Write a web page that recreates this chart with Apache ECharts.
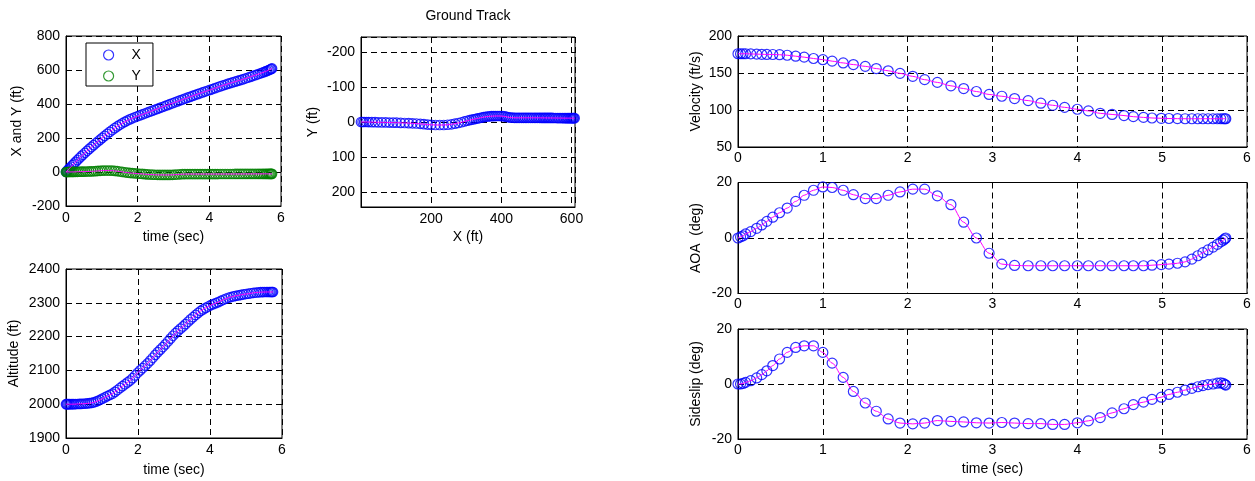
<!DOCTYPE html>
<html>
<head>
<meta charset="utf-8">
<script src="https://cdn.jsdelivr.net/npm/echarts@6/dist/echarts.min.js"></script>
<style>
html,body{margin:0;padding:0;background:#fff;}
#c{width:1255px;height:481px;}
</style>
</head>
<body>
<div id="c"></div>
<script>
// ---- data ----
// left panels (position / altitude) time samples
const tLeft = [0,0.02,0.04,0.07,0.1,0.14,0.18,0.22,0.27,0.32,0.37,0.42,0.47,0.53,0.59,0.65,0.71,0.77,0.83,0.89,0.95,1.01,1.08,1.15,1.22,1.29,1.36,1.43,1.5,1.57,1.64,1.71,1.78,1.85,1.92,1.99,2.06,2.13,2.2,2.27,2.34,2.41,2.48,2.55,2.62,2.69,2.76,2.83,2.9,2.97,3.04,3.11,3.18,3.25,3.32,3.39,3.46,3.53,3.6,3.67,3.74,3.81,3.88,3.95,4.02,4.09,4.16,4.23,4.3,4.37,4.44,4.51,4.58,4.65,4.72,4.79,4.86,4.93,5.0,5.07,5.14,5.21,5.28,5.35,5.41,5.47,5.52,5.57,5.61,5.65,5.68,5.71,5.73,5.75];
const posX = [0,4.5,9,15.5,22,31,40,49,59.5,70.5,81,91.5,101.5,113,124.5,136,147,158,169,179.5,190,200.5,212.5,224.5,236,247,258,268,277.5,286.5,295,302.5,309.5,316,322,327.5,333,338.5,344,349.5,355,360.5,366,371.5,377,382.5,388,393.5,399,404.5,410,415.5,421,426,431.5,437,442,447.5,452.5,458,463,468,473,478,483,488,493.5,498.5,503.5,508.5,513,518,522.5,527,531.5,536,540.5,545,549.5,554.5,559.5,564.5,569.5,574.5,579,583.5,587.5,591.5,595,598.5,601.5,604.5,606.5,609];
const posY = [0,0,0,0,0.2,0.4,0.6,0.8,1,1.2,1.5,1.8,2,2.4,2.8,3.2,3.7,4.3,5.2,6.2,7.2,8,8.5,8.6,8.5,7.8,6.5,4.8,2.8,0.7,-1.5,-3.5,-5.2,-6.6,-7.8,-9,-10.2,-11.4,-12.6,-13.8,-14.8,-15.6,-16.2,-16.6,-16.9,-17,-17.1,-17.1,-17,-16.6,-15.8,-14.6,-13.4,-12.6,-12.2,-12,-12,-12,-12,-12,-12,-12,-12,-12,-12,-12,-12,-12,-11.9,-11.9,-11.8,-11.8,-11.7,-11.7,-11.6,-11.6,-11.5,-11.5,-11.4,-11.4,-11.3,-11.3,-11.2,-11.2,-11.1,-11.1,-11,-11,-11,-11,-11,-11,-11,-11];
const altitude = [2000,2000,2000,2000,2000,2000,2000,2000.2,2000.4,2000.6,2000.8,2001,2001.3,2001.7,2002.3,2003,2004,2005.3,2007.5,2010,2013,2016.5,2020,2024,2027.5,2031,2036.5,2042,2048,2053.5,2059,2064.5,2070,2077,2085,2093,2100,2107,2114,2121,2129,2137.5,2146,2154,2161.5,2169,2177,2185.5,2194,2202.5,2210,2217,2223.5,2230,2237,2244,2251,2257.5,2264,2270,2276,2280.5,2285,2289,2293,2296,2299,2302,2305.5,2309,2312,2315,2317,2319,2320.7,2322,2323.5,2325,2326,2327,2328.3,2329.5,2330.3,2331,2331.4,2331.7,2332,2332,2332,2332,2332,2332,2332,2332];
// right panels time samples
const tRight = [0,0.03,0.06,0.09,0.15,0.22,0.28,0.34,0.41,0.49,0.58,0.68,0.78,0.89,1.0,1.11,1.24,1.36,1.5,1.63,1.77,1.91,2.06,2.2,2.35,2.51,2.66,2.81,2.96,3.11,3.26,3.42,3.57,3.71,3.85,4.0,4.13,4.27,4.41,4.55,4.66,4.78,4.88,4.99,5.08,5.18,5.27,5.35,5.42,5.48,5.54,5.6,5.65,5.69,5.72,5.74,5.75];
const velocity = [176,176,176,176,175.8,175.5,175.3,175.1,175,174.7,174,172.7,171.4,169.6,168,166,163.6,161.4,159,156,153,149.5,145.5,141,137.3,132.7,129,125,121,118.6,115.5,112.7,109.2,106.4,103.6,101,98.8,95.5,94,92.5,91,90,89.2,88.8,88.5,88.3,88.2,88.2,88.2,88.2,88.2,88.2,88.2,88.2,88.2,88.2,88.2];
const aoa = [0,0.4,0.8,1.5,2.3,3.5,4.7,6,7.5,9.1,10.8,13.2,15.4,17.2,18.4,18.2,17.2,15.6,14.2,14.2,15.4,16.6,17.6,17.6,15.2,12,5.7,0,-5.5,-9.4,-9.9,-10,-10,-10,-10,-10,-10,-10,-10,-10,-10,-10,-9.8,-9.6,-9.4,-9.1,-8.6,-7.6,-6.4,-5.3,-4.3,-3.3,-2.3,-1.4,-0.8,-0.3,0];
const sideslip = [0,0,0.2,0.6,1.2,2.2,3.4,4.8,6.7,9.1,11.5,13.3,13.9,13.9,11.5,7.6,2.4,-2.7,-6.9,-9.9,-12.7,-14.2,-14.5,-14.2,-13.3,-13.6,-13.8,-14.1,-14.2,-14,-14.2,-14.4,-14.4,-14.7,-14.7,-14.1,-13.4,-12.2,-10.5,-9,-7.5,-6.6,-5.6,-4.8,-3.8,-3,-2.2,-1.6,-1,-0.6,-0.2,0,0.3,0.4,0.2,-0.2,-0.4];
// labels
const legendNames = ['X','Y'];
const titleText = 'Ground Track';
const axisNames = {
  xy:['time (sec)','X and Y (ft)'], gt:['X (ft)','Y (ft)'], alt:['time (sec)','Altitude (ft)'],
  vel:['','Velocity (ft/s)'], aoa:['','AOA  (deg)'], beta:['time (sec)','Sideslip (deg)']
};

// ---- chart ----
const FONT = 'Liberation Sans, Arial, Helvetica, sans-serif';
const FS = 14;
const pairs = (xs, ys) => xs.map((x, i) => [x, ys[i]]);
const plain = v => String(v);

const grids = [
  {left:66, top:36, width:215, height:170},     // X and Y
  {left:361, top:37, width:214, height:170},    // Ground track
  {left:66, top:269, width:216, height:169},    // Altitude
  {left:738, top:36, width:509, height:111},    // Velocity
  {left:738, top:182.5, width:509, height:111}, // AOA
  {left:738, top:329, width:509, height:110}    // Sideslip
].map(g => Object.assign({show:true, borderColor:'#000', borderWidth:1, backgroundColor:'rgba(0,0,0,0)'}, g));

function lbl(margin, extra) {
  return Object.assign({color:'#000', fontSize:FS, fontFamily:FONT, margin, formatter:plain}, extra||{});
}
function axisBase(extra) {
  return Object.assign({
    type:'value',
    axisLine:{show:true, onZero:false, lineStyle:{color:'#000', width:1}},
    axisTick:{show:false},
    splitLine:{show:true, lineStyle:{color:'#000', width:1, type:[6,4]}},
    nameLocation:'middle',
    nameTextStyle:{color:'#000', fontSize:FS, fontFamily:FONT}
  }, extra);
}
function xA(gi, min, max, interval, name, label, gap) {
  return axisBase({gridIndex:gi, min, max, interval, name, nameGap:gap||24, axisLabel:label});
}
function yA(gi, min, max, interval, name, gap, extra) {
  const o = axisBase(Object.assign({gridIndex:gi, min, max, name, nameGap:gap, axisLabel:lbl(6)}, extra||{}));
  if (interval) o.interval = interval;
  return o;
}

const xAxis = [
  xA(0, 0, 6, 2, axisNames.xy[0], lbl(5)),
  xA(1, 0, 610, 200, axisNames.gt[0], lbl(5, {showMinLabel:false, showMaxLabel:false}), 23),
  xA(2, 0, 6, 2, axisNames.alt[0], lbl(5), 25),
  xA(3, 0, 6, 1, axisNames.vel[0], lbl(4)),
  xA(4, 0, 6, 1, axisNames.aoa[0], lbl(4)),
  xA(5, 0, 6, 1, axisNames.beta[0], lbl(4), 23)
];
const yAxis = [
  yA(0, -200, 800, 200, axisNames.xy[1], 42),
  yA(1, -242, 242, null, axisNames.gt[1], 41, {inverse:true, splitNumber:5, axisLabel:lbl(6, {showMinLabel:false, showMaxLabel:false})}),
  yA(2, 1900, 2400, 100, axisNames.alt[1], 45),
  yA(3, 50, 200, 50, axisNames.vel[1], 35),
  yA(4, -20, 20, 20, axisNames.aoa[1], 35),
  yA(5, -20, 20, 20, axisNames.beta[1], 35)
];

function scat(name, data, gi, color, size) {
  return {type:'scatter', name, xAxisIndex:gi, yAxisIndex:gi, data, symbol:'circle', symbolSize:size||10,
    itemStyle:{color:'rgba(0,0,0,0)', borderColor:color, borderWidth:1.2}, silent:true, z:2, animation:false};
}
function mline(data, gi, smooth) {
  return {type:'line', xAxisIndex:gi, yAxisIndex:gi, data, showSymbol:false, symbol:'none',
    lineStyle:{color:'#ff00ff', width:1}, smooth:smooth||false, smoothMonotone:'x', silent:true, z:3, animation:false};
}

const series = [
  scat(legendNames[0], pairs(tLeft, posX), 0, '#0000ff', 9.5),
  scat(legendNames[1], pairs(tLeft, posY), 0, '#008000', 9.5),
  mline(pairs(tLeft, posX), 0),
  mline(pairs(tLeft, posY), 0),
  scat('track', pairs(posX, posY), 1, '#0000ff', 9.5),
  Object.assign(mline(pairs(posX, posY), 1), {smoothMonotone:null}),
  scat('alt', pairs(tLeft, altitude), 2, '#0000ff', 9.5),
  mline(pairs(tLeft, altitude), 2),
  scat('vel', pairs(tRight, velocity), 3, '#0000ff'),
  mline(pairs(tRight, velocity), 3, 0.3),
  scat('aoa', pairs(tRight, aoa), 4, '#0000ff'),
  mline(pairs(tRight, aoa), 4, 0.3),
  scat('beta', pairs(tRight, sideslip), 5, '#0000ff'),
  mline(pairs(tRight, sideslip), 5, 0.3)
];

const option = {
  animation:false,
  backgroundColor:'#fff',
  title:{text:titleText, left:468, top:9, textAlign:'center', padding:0,
    textStyle:{fontSize:FS, fontWeight:'normal', color:'#000', fontFamily:FONT}},
  legend:{
    data:[
      {name:legendNames[0], icon:'circle', itemStyle:{color:'rgba(0,0,0,0)', borderColor:'#0000ff', borderWidth:1.2}},
      {name:legendNames[1], icon:'circle', itemStyle:{color:'rgba(0,0,0,0)', borderColor:'#008000', borderWidth:1.2}}
    ],
    orient:'vertical', left:86, top:43, itemWidth:10, itemHeight:10, itemGap:7,
    padding:[5,12,3,17], borderColor:'#000', borderWidth:1, backgroundColor:'#fff',
    selectedMode:false,
    textStyle:{color:'#000', fontSize:FS, fontFamily:FONT, lineHeight:14, padding:[0,0,0,13]}
  },
  grid:grids, xAxis, yAxis, series
};

const chart = echarts.init(document.getElementById('c'), null, {renderer:'canvas'});
chart.setOption(option);
</script>
</body>
</html>
